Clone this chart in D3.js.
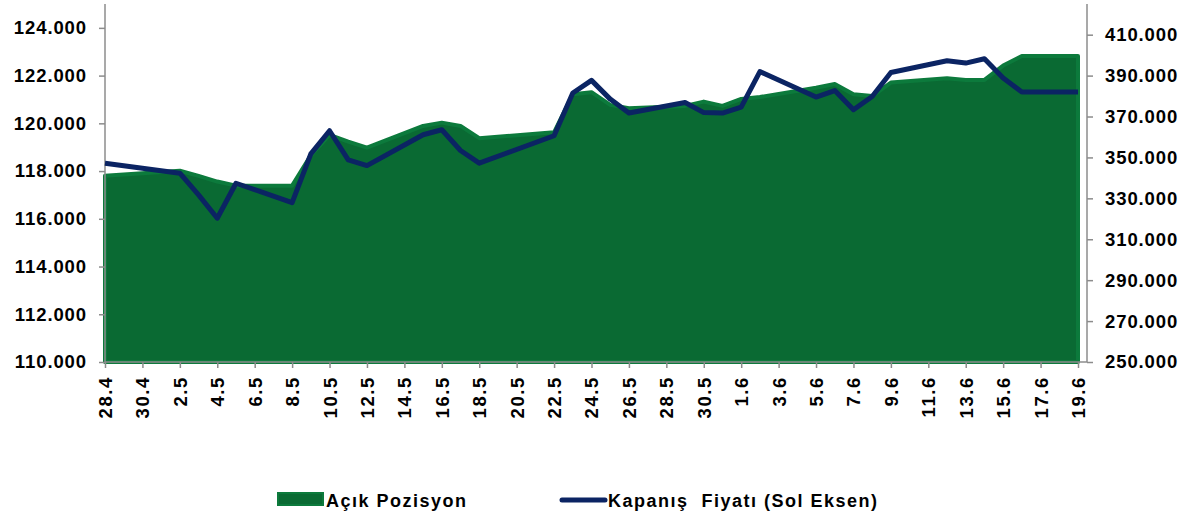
<!DOCTYPE html>
<html>
<head>
<meta charset="utf-8">
<style>
body { margin: 0; background: #fff; }
text { font-family: "Liberation Sans", Arial, sans-serif; font-weight: bold; fill: #000; }
.axis path, .axis line { stroke: #8c8c8c; stroke-width: 1.5px; }
</style>
</head>
<body>
<script src="https://cdn.jsdelivr.net/npm/d3@7"></script>
<script>

// calendar days on the axis, 28.4 -> 19.6
var days = [];
[[4, 28, 30], [5, 1, 31], [6, 1, 19]].forEach(function(m) {
  for (var d = m[1]; d <= m[2]; d++) days.push(d + "." + m[0]);
});

// trading days only
var tradeDays = ["28.4", "2.5", "3.5", "4.5", "5.5", "8.5", "9.5", "10.5", "11.5", "12.5",
  "15.5", "16.5", "17.5", "18.5", "22.5", "23.5", "24.5", "25.5", "26.5",
  "29.5", "30.5", "31.5", "1.6", "2.6", "5.6", "6.6", "7.6", "8.6", "9.6",
  "12.6", "13.6", "14.6", "15.6", "16.6", "19.6"];

// Açık Pozisyon (right axis)
var acikPozisyon = [341100, 343500, 341000, 338200, 336200, 336200, 351000, 361000, 357700, 354800,
  365400, 367000, 365400, 359400, 362300, 380900, 381900, 375700, 374000,
  375200, 377300, 375200, 378600, 379500, 384100, 385900, 380900, 380000, 386600,
  388700, 387900, 387900, 394900, 399600, 399600];

// Kapanış Fiyatı (left axis)
var kapanis = [118330, 117910, 117000, 116025, 117490, 116680, 118720, 119690, 118470, 118230,
  119520, 119730, 118860, 118330, 119480, 121270, 121800, 121015, 120430,
  120870, 120450, 120430, 120680, 122170, 121100, 121375, 120570, 121125, 122130,
  122620, 122525, 122705, 121895, 121310, 121310];

var leftTicks = [110000, 112000, 114000, 116000, 118000, 120000, 122000, 124000];
var rightTicks = [250000, 270000, 290000, 310000, 330000, 350000, 370000, 390000, 410000];

var width = 1191, height = 517;
var mLeft = 105, mRight = 1087, mTop = 4, mBottom = 362;

var svg = d3.select("body").append("svg")
    .attr("width", width)
    .attr("height", height);

var x = d3.scalePoint().domain(days).range([mLeft, 1078]);
var yL = d3.scaleLinear().domain([110000, 125000]).range([mBottom, mTop]);
var yR = d3.scaleLinear().domain([250000, 425000]).range([mBottom, mTop]);

var fmt = function(v) { return d3.format(",")(v).replace(/,/g, "."); };

var rows = tradeDays.map(function(d, i) {
  return { day: d, pos: acikPozisyon[i], price: kapanis[i] };
});

// area
var area = d3.area()
    .x(function(d) { return x(d.day); })
    .y0(mBottom)
    .y1(function(d) { return yR(d.pos); });

svg.append("path")
    .datum(rows)
    .attr("d", area)
    .attr("fill", "#0a6a33")
    .attr("stroke", "#0c7a3c")
    .attr("stroke-width", 4)
    .attr("stroke-linejoin", "round");

// axes
var gL = svg.append("g").attr("class", "axis")
    .attr("transform", "translate(" + mLeft + ",0)")
    .call(d3.axisLeft(yL).tickValues(leftTicks).tickSize(6).tickPadding(12).tickFormat(fmt));

var gR = svg.append("g").attr("class", "axis")
    .attr("transform", "translate(" + mRight + ",0)")
    .call(d3.axisRight(yR).tickValues(rightTicks).tickSize(6).tickPadding(12).tickFormat(fmt));

[gL, gR].forEach(function(g) {
  g.select(".domain").attr("d", "M0," + mTop + "V" + mBottom);
  g.selectAll("text").attr("font-size", "18.5px").style("letter-spacing", "0.9px");
});

var evenDays = days.filter(function(d, i) { return i % 2 == 0; });

var gX = svg.append("g").attr("class", "axis")
    .attr("transform", "translate(0," + mBottom + ")")
    .call(d3.axisBottom(x).tickValues(evenDays).tickSize(6).tickPadding(0));

gX.select(".domain").attr("d", "M" + mLeft + ",0H" + mRight);
gX.selectAll("text")
    .attr("font-size", "18.5px")
    .style("letter-spacing", "1.6px")
    .attr("text-anchor", "end")
    .attr("transform", "rotate(-90)")
    .attr("x", -14)
    .attr("y", 0)
    .attr("dy", "0.35em");

// price line
var line = d3.line()
    .x(function(d) { return x(d.day); })
    .y(function(d) { return yL(d.price); });

svg.append("path")
    .datum(rows)
    .attr("d", line)
    .attr("fill", "none")
    .attr("stroke", "#0b2463")
    .attr("stroke-width", 5)
    .attr("stroke-linejoin", "round");

// legend
var lg = svg.append("g");
lg.append("rect").attr("x", 278).attr("y", 493).attr("width", 45).attr("height", 12)
    .attr("fill", "#0a6a33").attr("stroke", "#0c7a3c").attr("stroke-width", 2);
lg.append("text").attr("x", 326).attr("y", 507).attr("font-size", "18px")
    .style("letter-spacing", "1.5px").text("Açık Pozisyon");
lg.append("line").attr("x1", 562).attr("x2", 605).attr("y1", 500).attr("y2", 500)
    .attr("stroke", "#0b2463").attr("stroke-width", 5).attr("stroke-linecap", "round");
lg.append("text").attr("x", 608).attr("y", 507).attr("font-size", "18px")
    .style("letter-spacing", "1.5px").style("white-space", "pre")
    .text("Kapanış  Fiyatı (Sol Eksen)");

</script>
</body>
</html>
